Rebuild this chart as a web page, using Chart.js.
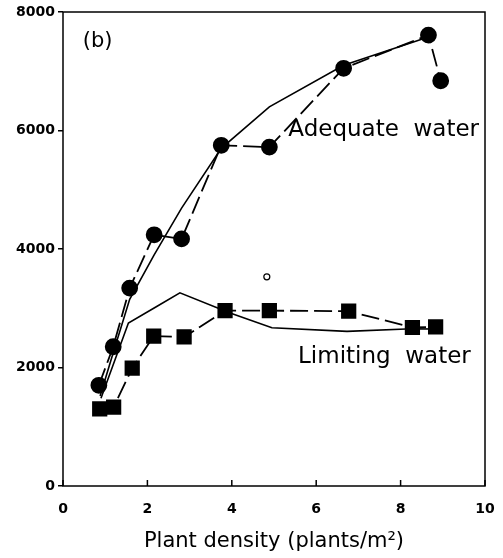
<!DOCTYPE html>
<html lang="en">
<head>
  <meta charset="UTF-8">
  <title>Plant density</title>
  <script src="https://cdn.jsdelivr.net/npm/chart.js"></script>
  <style>
    html, body { margin: 0; padding: 0; background: #fff; }
    #wrap { width: 503px; height: 558px; }
  </style>
</head>
<body>
  <div id="wrap"><canvas id="chart" width="503" height="558"></canvas></div>
  <script>
    // Observed points
    const adequateX = [0.85, 1.19, 1.58, 2.16, 2.81, 3.75, 4.89, 6.65, 8.66, 8.95];
    const adequateY = [1700, 2350, 3340, 4240, 4170, 5750, 5720, 7050, 7610, 6840];
    const limitingX = [0.87, 1.20, 1.64, 2.15, 2.87, 3.84, 4.89, 6.77, 8.28, 8.83];
    const limitingY = [1300, 1330, 1990, 2530, 2515, 2960, 2960, 2950, 2675, 2685];

    // Fitted (solid) curves
    const adequateFitX = [0.88, 1.19, 1.58, 2.16, 2.81, 3.75, 4.89, 6.65, 8.66];
    const adequateFitY = [1520, 2250, 3150, 3900, 4690, 5700, 6400, 7100, 7580];
    const limitingFitX = [0.90, 1.55, 2.20, 2.77, 3.96, 4.95, 6.73, 8.28, 8.83];
    const limitingFitY = [1480, 2750, 3020, 3260, 2920, 2670, 2610, 2655, 2650];

    // Single open point
    const openX = [4.83];
    const openY = [3530];

    const xTicks = [0, 2, 4, 6, 8, 10];
    const yTicks = [0, 2000, 4000, 6000, 8000];

    const FONT = '"DejaVu Sans", "Liberation Sans", Arial, sans-serif';

    function pts(xs, ys) {
      return xs.map((x, i) => ({ x: x, y: ys[i] }));
    }

    const frame = {
      id: 'frame',
      afterDraw(chart) {
        const ctx = chart.ctx;
        const a = chart.chartArea;
        const xs = chart.scales.x, ys = chart.scales.y;
        ctx.save();
        ctx.strokeStyle = '#000';
        ctx.lineWidth = 1.5;
        ctx.strokeRect(a.left, a.top, a.right - a.left, a.bottom - a.top);
        // inward ticks on x axis
        xTicks.forEach(v => {
          const px = xs.getPixelForValue(v);
          ctx.beginPath();
          ctx.moveTo(px, a.bottom);
          ctx.lineTo(px, a.bottom - 6);
          ctx.stroke();
        });
        // annotations
        ctx.fillStyle = '#000';
        ctx.textBaseline = 'middle';
        ctx.font = '21px ' + FONT;
        ctx.fillText('(b)', xs.getPixelForValue(0.47), ys.getPixelForValue(7500));
        ctx.font = '23px ' + FONT;
        ctx.fillText('Adequate  water', xs.getPixelForValue(5.34), ys.getPixelForValue(6010));
        ctx.font = '500 23px ' + FONT;
        ctx.fillText('Limiting  water', xs.getPixelForValue(5.57), ys.getPixelForValue(2170));
        ctx.restore();
      }
    };

    new Chart(document.getElementById('chart'), {
      type: 'scatter',
      data: {
        datasets: [
          {
            data: pts(adequateFitX, adequateFitY),
            showLine: true, borderColor: '#000', borderWidth: 1.6,
            pointRadius: 0, tension: 0
          },
          {
            data: pts(limitingFitX, limitingFitY),
            showLine: true, borderColor: '#000', borderWidth: 1.6,
            pointRadius: 0, tension: 0
          },
          {
            data: pts(adequateX, adequateY),
            showLine: true, borderColor: '#000', borderWidth: 1.8, borderDash: [18, 6],
            pointStyle: 'circle', pointRadius: 7.5,
            pointBackgroundColor: '#000', pointBorderColor: '#000'
          },
          {
            data: pts(limitingX, limitingY),
            showLine: true, borderColor: '#000', borderWidth: 1.8, borderDash: [18, 6],
            pointStyle: 'rect', pointRadius: 9.5,
            pointBackgroundColor: '#000', pointBorderColor: '#000'
          },
          {
            data: pts(openX, openY),
            showLine: false,
            pointStyle: 'circle', pointRadius: 3,
            pointBackgroundColor: '#fff', pointBorderColor: '#000', pointBorderWidth: 1.2
          }
        ]
      },
      options: {
        responsive: false,
        animation: false,
        layout: { padding: { top: 12, right: 18 } },
        plugins: {
          legend: { display: false },
          tooltip: { enabled: false }
        },
        scales: {
          x: {
            type: 'linear', min: 0, max: 10,
            afterFit(s) { s.height = 72; },
            afterBuildTicks(s) { s.ticks = xTicks.map(v => ({ value: v })); },
            border: { display: false },
            grid: { display: false, drawOnChartArea: false },
            ticks: {
              color: '#000', padding: 7,
              callback: v => String(v),
              font: { family: FONT, size: 14, weight: 'bold' }
            },
            title: {
              display: true, text: 'Plant density (plants/m²)', color: '#000',
              padding: { top: 12 },
              font: { family: FONT, size: 21, weight: '500' }
            }
          },
          y: {
            type: 'linear', min: 0, max: 8000,
            afterFit(s) { s.width = 63; },
            afterBuildTicks(s) { s.ticks = yTicks.map(v => ({ value: v })); },
            border: { display: false },
            grid: { drawOnChartArea: false, color: '#000', tickLength: 5, lineWidth: 1.5 },
            ticks: {
              color: '#000', padding: 3,
              callback: v => String(v),
              font: { family: FONT, size: 14, weight: 'bold' }
            }
          }
        }
      },
      plugins: [frame]
    });
  </script>
</body>
</html>
